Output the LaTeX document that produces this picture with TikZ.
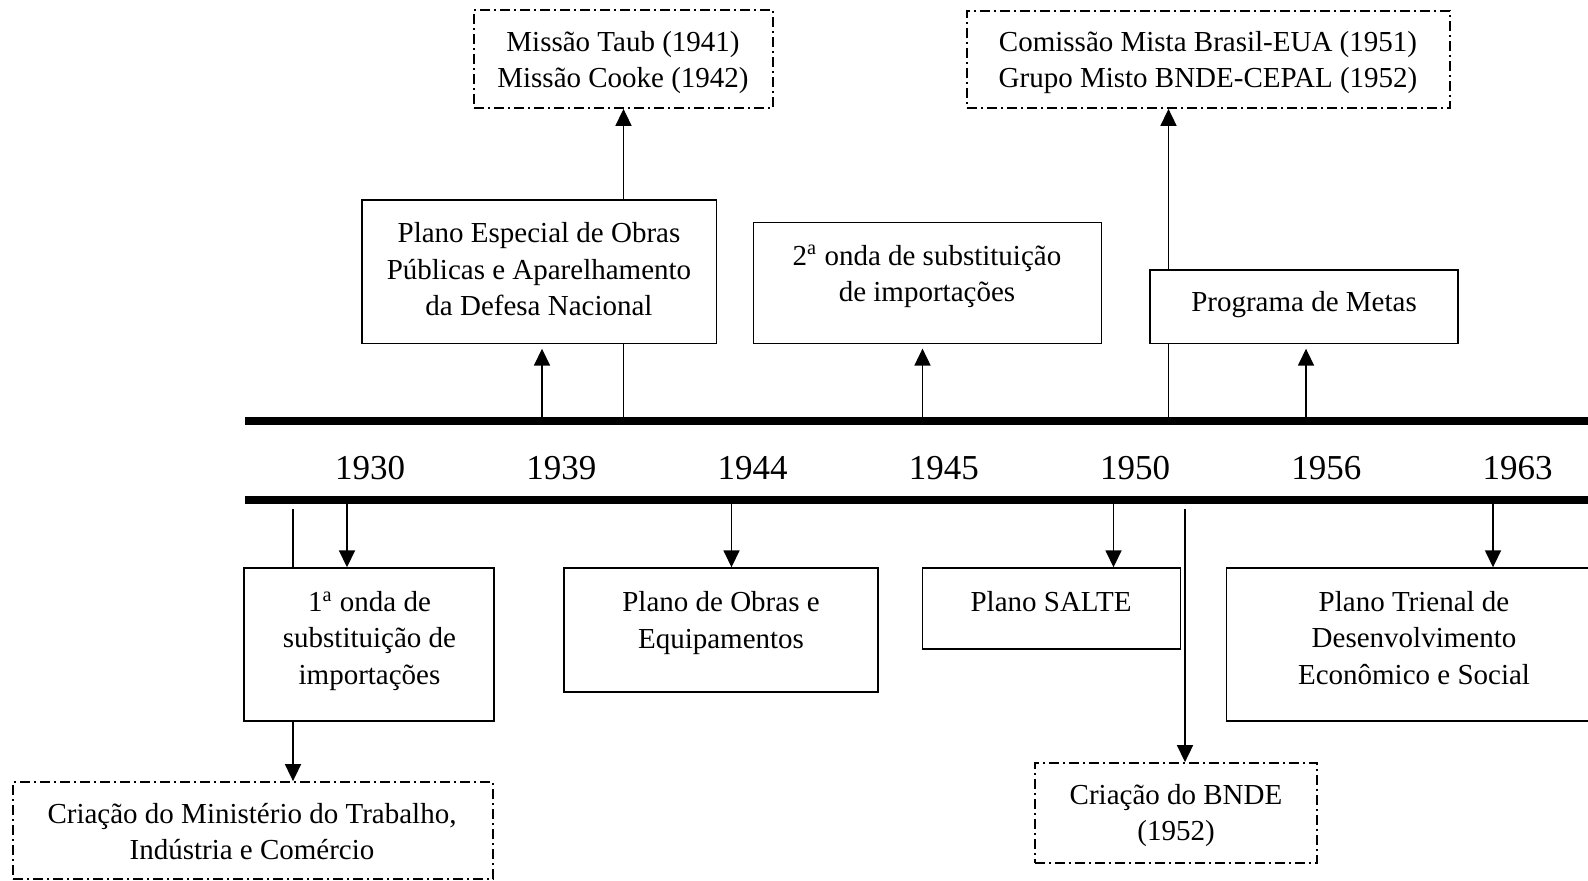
\documentclass[tikz,border=0pt]{standalone}
\usepackage{fontspec}
\setmainfont{Liberation Serif}
\usetikzlibrary{arrows.meta}

\tikzset{
  plainbox/.style={draw, line width=0.7pt, inner sep=0pt},
  dashbox/.style={draw, line width=0.9pt, inner sep=0pt, dash pattern=on 5pt off 2pt on 1pt off 2pt},
  boxtext/.style={align=center, inner sep=0pt, font=\fontsize{14.5pt}{18.25pt}\selectfont},
  yeartext/.style={inner sep=0pt, font=\fontsize{17.5pt}{20pt}\selectfont},
  timebar/.style={line width=4pt},
  link/.style={line width=0.85pt},
  gap/.style={shorten >=2.3pt},
}

\begin{document}
\begin{tikzpicture}[x=0.5pt, y=-0.5pt, >={Triangle[length=8.5pt,width=8pt]}]

% command drawing dimensions (pixel grid, y downwards)
\newcommand{\xleft}{245}
\newcommand{\xright}{1588}
\newcommand{\ytop}{421}
\newcommand{\ybot}{499.5}
\newcommand{\yfree}{509}

% ad hoc bounding box
\useasboundingbox (0,0) rectangle (1588,881);

% boxes above the time line
\node[dashbox, minimum width=149.5pt, minimum height=49pt] (missao) at (623.5,59) {};
\node[boxtext] (missaoTxt) at (623,62.5) {Missão Taub (1941)\\Missão Cooke (1942)};

\node[dashbox, minimum width=241.5pt, minimum height=48.5pt] (comissao) at (1208.5,59.5) {};
\node[boxtext] (comissaoTxt) at (1208,62.5) {Comissão Mista Brasil-EUA (1951)\\Grupo Misto BNDE-CEPAL (1952)};

\node[plainbox, minimum width=177.3pt, minimum height=71.7pt] (plano) at (539.3,271.7) {};
\node[boxtext] (planoTxt) at (539,269.5) {Plano Especial de Obras\\Públicas e Aparelhamento\\da Defesa Nacional};

\node[plainbox, minimum width=174.2pt, minimum height=60.3pt] (ondaB) at (927.5,283) {};
\node[boxtext] (ondaBTxt) at (927,276.4) {2\textsuperscript{a} onda de substituição\\de importações};

\node[plainbox, minimum width=154pt, minimum height=36.7pt] (metas) at (1304,306.7) {};
\node[boxtext] (metasTxt) at (1304,304.8) {Programa de Metas};

% boxes below the time line
\node[plainbox, minimum width=125pt, minimum height=76.5pt] (ondaA) at (369,644.5) {};
\node[boxtext] (ondaATxt) at (369.5,641) {1\textsuperscript{a} onda de\\substituição de\\importações};

\node[plainbox, minimum width=157pt, minimum height=62pt] (obras) at (721,630) {};
\node[boxtext] (obrasTxt) at (721,622.8) {Plano de Obras e\\Equipamentos};

\node[plainbox, minimum width=129pt, minimum height=40.5pt] (salte) at (1051.4,608.5) {};
\node[boxtext] (salteTxt) at (1051,601.6) {Plano SALTE};

\node[plainbox, minimum width=187.5pt, minimum height=76.5pt] (trienal) at (1414,644.5) {};
\node[boxtext] (trienalTxt) at (1414,638) {Plano Trienal de\\Desenvolvimento\\Econômico e Social};

\node[dashbox, minimum width=240pt, minimum height=48.5pt] (ministerio) at (253,830.5) {};
\node[boxtext] (ministerioTxt) at (252,831.5) {Criação do Ministério do Trabalho,\\Indústria e Comércio};

\node[dashbox, minimum width=141pt, minimum height=50pt] (bnde) at (1176,813) {};
\node[boxtext] (bndeTxt) at (1176,815.7) {Criação do BNDE\\(1952)};

% points on the time line
\coordinate (t1) at (542,\ytop);
\coordinate (t2) at (623.5,\ytop);
\coordinate (t3) at (922.5,\ytop);
\coordinate (t4) at (1168.5,\ytop);
\coordinate (t5) at (1306,\ytop);
\coordinate (b1) at (293,\yfree);
\coordinate (b2) at (347,\ybot);
\coordinate (b3) at (731.5,\ybot);
\coordinate (b4) at (1113.5,\ybot);
\coordinate (b5) at (1185,\yfree);
\coordinate (b6) at (1493,\ybot);

% connectors up
\draw[link, ->, gap] (t1) -- (t1 |- plano.south);
\draw[link] (t2) -- (t2 |- plano.south);
\draw[link, ->] (t2 |- plano.north) -- (t2 |- missao.south);
\draw[link, ->, gap] (t3) -- (t3 |- ondaB.south);
\draw[link] (t4) -- (t4 |- metas.south);
\draw[link, ->] (t4 |- metas.north) -- (t4 |- comissao.south);
\draw[link, ->, gap] (t5) -- (t5 |- metas.south);

% connectors down
\draw[link] (b1) -- (b1 |- ondaA.north);
\draw[link, ->] (b1 |- ondaA.south) -- (b1 |- ministerio.north);
\draw[link, ->] (b2) -- (b2 |- ondaA.north);
\draw[link, ->] (b3) -- (b3 |- obras.north);
\draw[link, ->] (b4) -- (b4 |- salte.north);
\draw[link, ->] (b5) -- (b5 |- bnde.north);
\draw[link, ->] (b6) -- (b6 |- trienal.north);

% time line
\draw[timebar] (\xleft,\ytop) -- (\xright,\ytop);
\draw[timebar] (\xleft,\ybot) -- (\xright,\ybot);
\foreach \yr [count=\i from 0] in {1930,1939,1944,1945,1950,1956,1963}
  \node[yeartext] (y\yr) at (370+191.25*\i,468) {\yr};

\end{tikzpicture}
\end{document}
